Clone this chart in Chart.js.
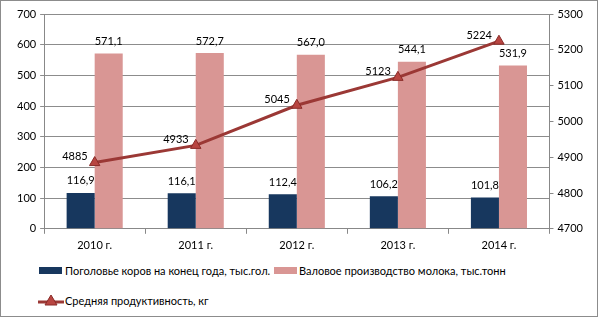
<!DOCTYPE html>
<html>
<head>
<meta charset="utf-8">
<script src="https://cdn.jsdelivr.net/npm/chart.js@4"></script>
<style>
  body { margin: 0; background: #fff; }
  #wrap { position: relative; width: 598px; height: 317px; border: 1px solid #8c8c8c; box-sizing: border-box; background: #fff; }
  #box { position: absolute; left: 0; top: 0; width: 596px; height: 260px; }
  .lg { position: absolute; font: 11px Lato, sans-serif; color: #000; white-space: nowrap; line-height: 14px; }
  .sw { position: absolute; width: 23px; height: 7px; }
</style>
</head>
<body>
<div id="wrap">
  <div id="box"><canvas id="chartCanvas"></canvas></div>
  <div class="sw" style="left:38px;top:266px;background:#17375E"></div>
  <div class="lg" style="left:64px;top:263px">Поголовье коров на конец года, тыс.гол.</div>
  <div class="sw" style="left:273px;top:266px;background:#D99694"></div>
  <div class="lg" style="left:298px;top:263px">Валовое производство молока, тыс.тонн</div>
  <svg style="position:absolute;left:37px;top:293px" width="26" height="14">
    <line x1="0" y1="8" x2="26" y2="8" stroke="#9B3835" stroke-width="3"/>
    <polygon points="13,1 19,11 7,11" fill="#B84541" stroke="#8A2B28" stroke-width="1"/>
  </svg>
  <div class="lg" style="left:64px;top:293px">Средняя продуктивность, кг</div>
</div>
<script>
// Данные
const years = ["2010 г.", "2011 г.", "2012 г.", "2013 г.", "2014 г."];
const cows = [116.9, 116.1, 112.4, 106.2, 101.8];
const milk = [571.1, 572.7, 567.0, 544.1, 531.9];
const yieldKg = [4885, 4933, 5045, 5123, 5224];

const fmt = v => v.toFixed(1).replace(".", ",");

// подписи значений
const valueLabels = {
  id: "valueLabels",
  afterDatasetsDraw(chart) {
    const ctx = chart.ctx;
    ctx.save();
    ctx.font = "11px Lato, sans-serif";
    ctx.fillStyle = "#000";
    ctx.textBaseline = "middle";
    chart.data.datasets.forEach((ds, i) => {
      const meta = chart.getDatasetMeta(i);
      meta.data.forEach((el, j) => {
        if (ds.type === "line") {
          ctx.textAlign = "right";
          ctx.fillText(String(ds.data[j]), el.x - 7, el.y - 6);
        } else {
          ctx.textAlign = "center";
          ctx.fillText(fmt(ds.data[j]), el.x, el.y - 12);
        }
      });
    });
    ctx.restore();
  }
};

const tickFont = { family: "Lato, sans-serif", size: 11 };

const chart = new Chart(document.getElementById("chartCanvas"), {
  data: {
    labels: years,
    datasets: [
      {
        type: "line",
        label: "Средняя продуктивность, кг",
        data: yieldKg,
        yAxisID: "y1",
        borderColor: "#9B3835",
        borderWidth: 3,
        pointStyle: "triangle",
        pointRadius: 6,
        pointBackgroundColor: "#B84541",
        pointBorderColor: "#8A2B28",
        pointBorderWidth: 1,
        tension: 0,
        order: 0,
      },
      {
        type: "bar",
        label: "Поголовье коров на конец года, тыс.гол.",
        data: cows,
        yAxisID: "y",
        backgroundColor: "#17375E",
        categoryPercentage: 0.555,
        barPercentage: 1,
        order: 1,
      },
      {
        type: "bar",
        label: "Валовое производство молока, тыс.тонн",
        data: milk,
        yAxisID: "y",
        backgroundColor: "#D99694",
        categoryPercentage: 0.555,
        barPercentage: 1,
        order: 2,
      },
    ],
  },
  options: {
    responsive: true,
    maintainAspectRatio: false,
    animation: false,
    layout: { padding: { top: 13, right: 10, left: 12, bottom: 4 } },
    plugins: { legend: { display: false }, tooltip: { enabled: false } },
    scales: {
      x: {
        grid: { offset: true, drawOnChartArea: false, drawTicks: true, tickLength: 5, color: "#888" },
        border: { color: "#888" },
        ticks: { font: tickFont, color: "#000", padding: 5 },
      },
      y: {
        position: "left",
        min: 0, max: 700,
        ticks: { stepSize: 100, font: tickFont, color: "#000", padding: 4 },
        grid: { color: "#8c8c8c", tickLength: 4 },
        border: { color: "#888" },
      },
      y1: {
        position: "right",
        min: 4700, max: 5300,
        ticks: { stepSize: 100, font: tickFont, color: "#000", padding: 4, callback: v => String(v) },
        grid: { drawOnChartArea: false, color: "#888", tickLength: 4 },
        border: { color: "#888" },
      },
    },
  },
  plugins: [valueLabels],
});
</script>
</body>
</html>
